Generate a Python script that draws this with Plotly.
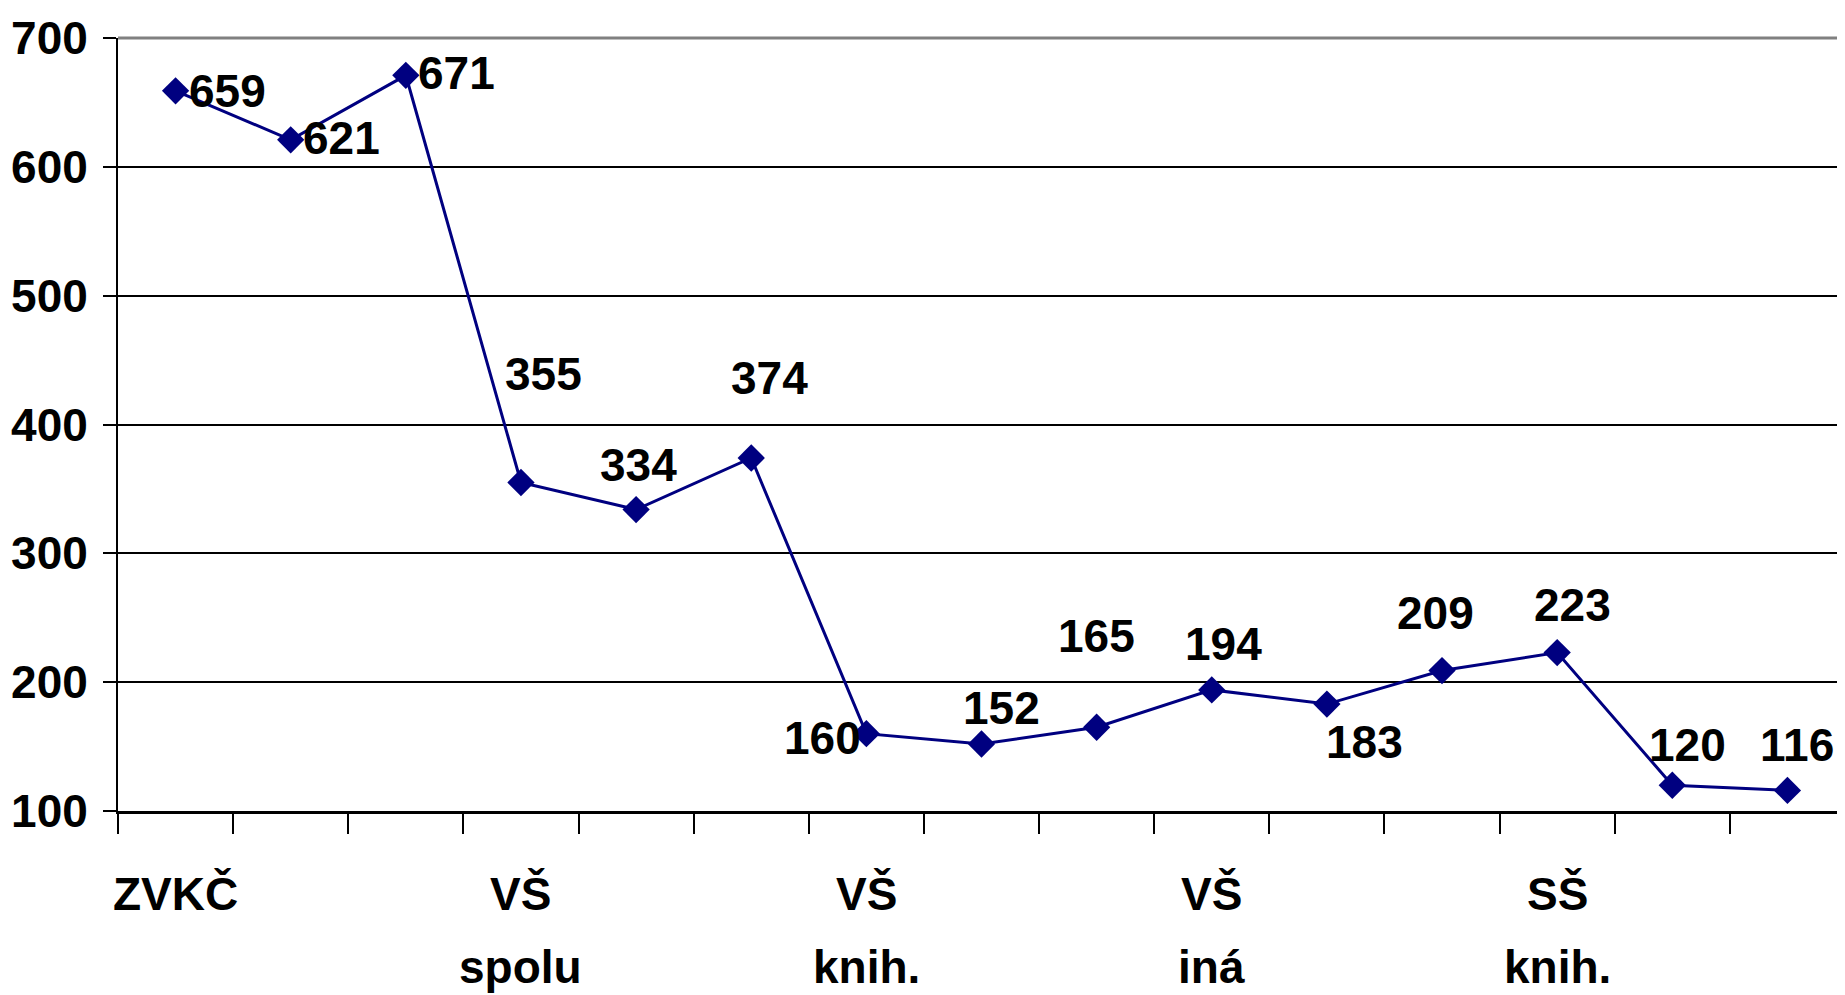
import plotly.graph_objects as go

# ---- data ----
values = [659, 621, 671, 355, 334, 374, 160, 152, 165, 194, 183, 209, 223, 120, 116]
group_positions = [0, 3, 6, 9, 12]
group_labels = ["ZVKČ", "VŠ<br>spolu", "VŠ<br>knih.", "VŠ<br>iná", "SŠ<br>knih."]
y_ticks = [100, 200, 300, 400, 500, 600, 700]

# label offsets (pixels, style only)
label_dx = [52, 51, 51, 23, 2, 18, -44, 20, 0, 12, 38, -7, 15, 15, 10]
label_dy = [0, -2, -2, -108, -45, -80, 4, -36, -91, -46, 38, -58, -48, -40, -45]
group_line_shift = [-83, -156]

FONT = "Liberation Sans, Arial, sans-serif"
FS = 46
x = list(range(len(values)))

fig = go.Figure()
fig.add_trace(go.Scatter(
    x=x, y=values, mode="lines+markers",
    line=dict(color="#000080", width=3),
    marker=dict(symbol="diamond", size=21, color="#000080"),
    hoverinfo="x+y", showlegend=False,
))

for xi, v, dx, dy in zip(x, values, label_dx, label_dy):
    fig.add_annotation(x=xi, y=v, text=f"<b>{v}</b>", showarrow=False,
                       xshift=dx, yshift=-dy,
                       font=dict(family=FONT, size=FS, color="black"))

for gx, lab in zip(group_positions, group_labels):
    for line, shift in zip(lab.split("<br>"), group_line_shift):
        fig.add_annotation(x=gx, y=0, xref="x", yref="paper", yanchor="middle",
                           text=f"<b>{line}</b>", showarrow=False, yshift=shift,
                           font=dict(family=FONT, size=FS, color="black"))

fig.update_layout(
    width=1837, height=987,
    margin=dict(l=110, r=0, t=30, b=184, autoexpand=False),
    paper_bgcolor="white", plot_bgcolor="white",
    font=dict(family=FONT, size=FS, color="black"),
    xaxis=dict(
        range=[-0.5, 14.5], tickmode="linear", tick0=-0.5, dtick=1,
        showticklabels=False, ticks="outside", ticklen=20, tickwidth=2, tickcolor="black",
        showgrid=False, zeroline=False, showline=True, linecolor="black", linewidth=3,
        automargin=False,
    ),
    yaxis=dict(
        range=[100, 700], tickmode="array", tickvals=y_ticks,
        ticktext=[f"<b>{t}</b>" for t in y_ticks],
        ticks="outside", ticklen=13, tickwidth=2, tickcolor="black",
        ticklabelstandoff=6, automargin=False,
        showgrid=True, gridcolor="black", gridwidth=2,
        zeroline=False, showline=True, linecolor="black", linewidth=2,
        tickfont=dict(family=FONT, size=FS, color="black"),
    ),
)
fig.add_shape(type="line", xref="paper", yref="paper", x0=0, x1=1, y0=1, y1=1,
              line=dict(color="#808080", width=3), layer="above")

fig.write_html("out.html")
